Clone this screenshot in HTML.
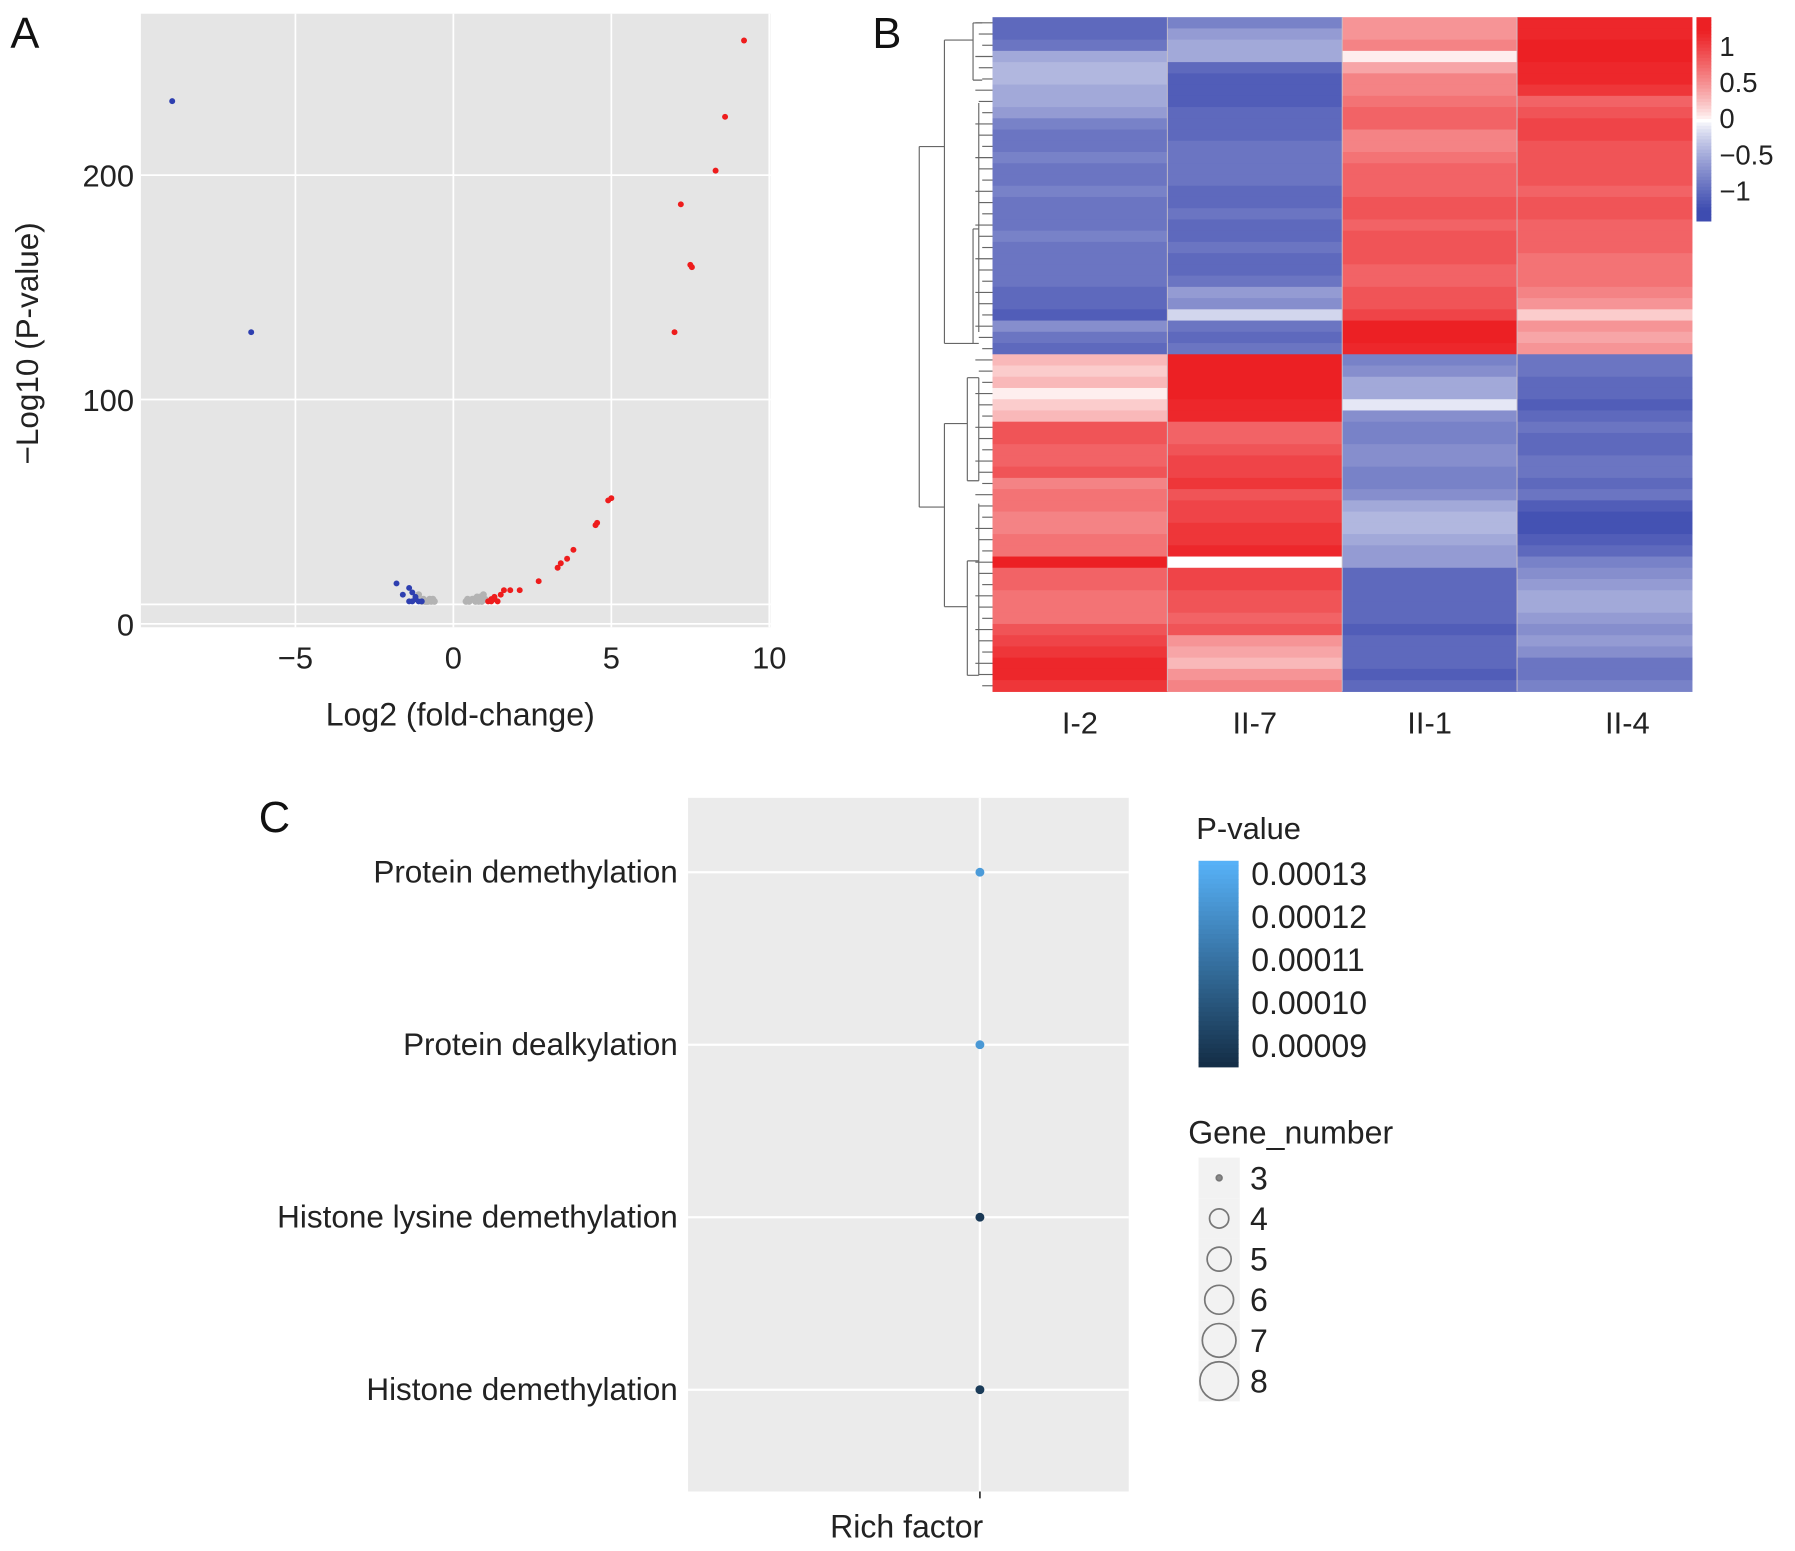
<!DOCTYPE html>
<html><head><meta charset="utf-8">
<style>
html,body{margin:0;padding:0;background:#fff;}
svg{display:block;font-family:"Liberation Sans",Arial,sans-serif;}
</style></head>
<body>
<svg id="fig" width="1795" height="1551" viewBox="0 0 1568 1355" xmlns="http://www.w3.org/2000/svg">
<g id="panelA"></g>
<g id="panelB"></g>
<g id="panelC"></g>
</svg>
<script>
// ---------- Panel A data ----------
const redX = [9.2,8.6,8.3,7.2,7.5,7.55,7.0,4.9,5.0,4.5,4.55,3.8,3.6,3.4,3.3,2.7,2.1,1.8,1.6,1.5,1.3,1.2,1.1,1.2,1.3,1.4];
const redY = [260,226,202,187,160,159,130,55,56,44,45,33,29,27,25,19,15,15,15,13,11,11,10,10,12,10];
const blueX = [-8.9,-6.4,-1.8,-1.6,-1.4,-1.3,-1.2,-1.1,-1.3,-1.0,-1.2,-1.4];
const blueY = [233,130,18,13,16,14,11,10,10,10,12,10];
const grayX = [-1.0,-0.9,-0.8,-0.7,-0.6,-0.95,-0.85,-0.75,-1.1,0.4,0.5,0.6,0.7,0.8,0.9,1.0,0.45,0.65,0.85,0.95,-0.65,0.75];
const grayY = [10,10,10,10,10,11,10,11,13,10,10,11,10,10,10,11,11,11,12,13,11,12];
const aXTicks = [-5,0,5,10];
const aYTicks = [0,100,200];

// ---------- Panel B data ----------
const hmCols = ["I-2","II-7","II-1","II-4"];
const hmI2 = [-1.0,-1.0,-0.9,-0.5,-0.4,-0.4,-0.5,-0.5,-0.6,-0.8,-0.9,-0.9,-0.8,-0.9,-0.9,-0.8,-0.9,-0.9,-0.9,-0.8,-0.9,-0.9,-0.9,-0.9,-1.0,-1.0,-1.1,-0.7,-0.9,-1.0,
 0.3,0.2,0.3,0.05,0.2,0.3,0.9,0.9,0.8,0.8,0.9,0.6,0.7,0.7,0.6,0.6,0.7,0.7,1.3,0.8,0.8,0.7,0.7,0.7,0.9,1.0,1.1,1.2,1.2,1.1];
const hmII7 = [-0.8,-0.6,-0.5,-0.5,-1.0,-1.1,-1.1,-1.1,-1.0,-1.0,-1.0,-0.9,-0.9,-0.9,-0.9,-1.0,-1.0,-0.9,-1.0,-1.0,-0.9,-1.0,-1.0,-0.9,-0.6,-0.7,-0.2,-0.9,-1.0,-0.9,
 1.3,1.3,1.3,1.3,1.2,1.2,0.8,0.8,0.9,1.0,1.0,1.1,0.9,1.0,1.0,1.1,1.1,1.2,0.0,1.0,1.0,0.9,0.9,0.8,0.9,0.5,0.4,0.3,0.5,0.6];
const hmII1 = [0.5,0.5,0.6,0.05,0.4,0.6,0.6,0.7,0.8,0.8,0.6,0.6,0.7,0.8,0.8,0.8,0.9,0.9,0.8,0.9,0.9,0.9,0.8,0.8,0.9,0.9,1.0,1.3,1.3,1.2,
 -0.8,-0.7,-0.5,-0.5,-0.1,-0.7,-0.8,-0.8,-0.7,-0.7,-0.8,-0.8,-0.7,-0.5,-0.4,-0.4,-0.5,-0.6,-0.6,-1.0,-1.0,-1.0,-1.0,-1.0,-1.1,-1.0,-1.0,-1.0,-1.1,-1.0];
const hmII4 = [1.2,1.2,1.3,1.3,1.2,1.2,1.1,0.8,0.9,1.0,1.0,0.9,0.9,0.9,0.9,0.8,0.9,0.9,0.8,0.8,0.8,0.7,0.7,0.7,0.6,0.5,0.2,0.5,0.4,0.5,
 -0.9,-0.9,-1.0,-1.0,-1.1,-1.0,-0.9,-1.0,-1.0,-0.9,-0.9,-1.0,-0.9,-1.1,-1.2,-1.2,-1.1,-1.0,-0.8,-0.7,-0.6,-0.5,-0.5,-0.6,-0.7,-0.6,-0.7,-0.9,-0.9,-0.8];
const cbTicks = [1,0.5,0,-0.5,-1];
const cbLabels = ["1","0.5","0","\u22120.5","\u22121"];

// ---------- Panel C data ----------
const terms = ["Protein demethylation","Protein dealkylation","Histone lysine demethylation","Histone demethylation"];
const richFactor = [0.5,0.5,0.5,0.5];
const pValues = [0.000125,0.000124,0.000090,0.000091];
const geneNumber = [3,3,3,3];
const pTicks = [0.00013,0.00012,0.00011,0.00010,0.00009];
const pTickLabels = ["0.00013","0.00012","0.00011","0.00010","0.00009"];
const sizeKeys = [3,4,5,6,7,8];

const NS="http://www.w3.org/2000/svg";
function mk(parent,tag,attrs,text){const e=document.createElementNS(NS,tag);for(const k in attrs)e.setAttribute(k,attrs[k]);if(text!==undefined)e.textContent=text;parent.appendChild(e);return e;}

// ===== Panel A =====
(function(){
const g=document.getElementById('panelA');
const L=123,R=673,T=12,B=548;
const xS=v=>396+v*27.6, yS=v=>545-v*1.96;
let e=mk(g,'rect',{x:L,y:T,width:R-L,height:B-T,fill:'#e5e5e5'});


aXTicks.forEach(t=>{
 e=mk(g,'line',{x1:xS(t),x2:xS(t),y1:T,y2:B,stroke:'#fff','stroke-width':1.5});
 
 e=mk(g,'text',{x:xS(t),y:584,'font-size':27,'text-anchor':'middle',fill:'#222'},t<0?'\u2212'+(-t):String(t));
 
});
aYTicks.forEach(t=>{
 e=mk(g,'line',{x1:L,x2:R,y1:yS(t),y2:yS(t),stroke:'#fff','stroke-width':1.5});
 
 e=mk(g,'text',{x:117,y:yS(t)+10,'font-size':27,'text-anchor':'end',fill:'#222'},String(t));
 
});
e=mk(g,'line',{x1:L,x2:R,y1:528,y2:528,stroke:'#fff','stroke-width':1.5});

grayX.forEach((x,i)=>{e=mk(g,'circle',{cx:xS(x),cy:yS(grayY[i]),r:3,fill:'#b3b3b3'});
 });
blueX.forEach((x,i)=>{e=mk(g,'circle',{cx:xS(x),cy:yS(blueY[i]),r:2.6,fill:'#2e3fb0'});
 });
redX.forEach((x,i)=>{e=mk(g,'circle',{cx:xS(x),cy:yS(redY[i]),r:2.6,fill:'#ee1c1c'});
 });
e=mk(g,'text',{x:402,y:634,'font-size':28,'text-anchor':'middle',fill:'#222'},'Log2 (fold-change)');

e=mk(g,'text',{x:0,y:0,'font-size':27.5,'text-anchor':'middle',fill:'#222',transform:'translate(33,300) rotate(-90)'},'\u2212Log10 (P-value)');

e=mk(g,'text',{x:9,y:42,'font-size':38,fill:'#111'},'A');

})();

// ===== Panel B =====
(function(){
const g=document.getElementById('panelB');
const L=867,R=1478,T=15,B=604;
const cols=[hmI2,hmII7,hmII1,hmII4];
const n=hmI2.length, rh=(B-T)/n, cw=(R-L)/4;
function col(v){
 const lo=[62,76,176],mid=[255,255,255],hi=[236,32,36];
 let t=Math.max(-1,Math.min(1,v/1.25));
 const a=t<0?lo:hi, f=Math.pow(Math.abs(t),0.8);
 return 'rgb('+[0,1,2].map(k=>Math.round(mid[k]+(a[k]-mid[k])*f)).join(',')+')';
}
let e;
cols.forEach((arr,c)=>{
 arr.forEach((v,r)=>{
  e=mk(g,'rect',{x:L+c*cw,y:T+r*rh,width:cw+0.5,height:rh+0.5,fill:col(v)});
  
 });
 e=mk(g,'text',{x:L+c*cw+cw/2-(c===3?-20:0),y:641,'font-size':27,'text-anchor':'middle',fill:'#222'},hmCols[c]);
 
});
for(let c=1;c<4;c++){e=mk(g,'line',{x1:L+c*cw,x2:L+c*cw,y1:T,y2:B,stroke:'#c8c0c8','stroke-width':0.8});
 }
const dg=mk(g,'g',{stroke:'#666','stroke-width':1,fill:'none'});

const yR=r=>T+(r+0.5)*rh;
const path='M803,128 V443 M803,128 H825 M803,443 H825 M825,35 V300 M825,370 V530 '+
 'M825,35 H850 M825,300 H850 M850,20 V70 M850,200 V300 M825,370 H845 M825,530 H845 M845,330 V420 M845,490 V590';
mk(dg,'path',{d:path});
for(let r=0;r<n;r++){const y=yR(r);mk(dg,'path',{d:'M'+(852+(r%3)*3)+','+y+' H867'});}
mk(dg,'path',{d:'M850,20 H858 M850,70 H858 M850,200 H855 M850,300 H855 M845,330 H855 M845,420 H855 M845,490 H855 M845,590 H855 M855,90 V290 M855,330 V420 M855,440 V590'});
const cbT=15,cbB=193,cbX=1482,cbW=13;
const cs=v=>103-v*63;
for(let i=0;i<60;i++){const v=1.42-i*(2.84/60);
 e=mk(g,'rect',{x:cbX,y:cbT+i*(cbB-cbT)/60,width:cbW,height:(cbB-cbT)/60+0.5,fill:col(v)});
 }
cbTicks.forEach((t,i)=>{e=mk(g,'text',{x:1502,y:cs(t)+9,'font-size':24,fill:'#222'},cbLabels[i]);
 });
e=mk(g,'text',{x:762,y:42,'font-size':38,fill:'#111'},'B');

})();

// ===== Panel C =====
(function(){
const g=document.getElementById('panelC');
const L=601,R=986,T=697,B=1303;
const yC=i=>762+i*150.7, xC=v=>856+(v-0.5)*100;
let e=mk(g,'rect',{x:L,y:T,width:R-L,height:B-T,fill:'#ebebeb'});

terms.forEach((t,i)=>{
 e=mk(g,'line',{x1:L,x2:R,y1:yC(i),y2:yC(i),stroke:'#fff','stroke-width':2});
 
 e=mk(g,'text',{x:592,y:yC(i)+9,'font-size':27.5,'text-anchor':'end',fill:'#222'},t);
 
});
e=mk(g,'line',{x1:xC(0.5),x2:xC(0.5),y1:T,y2:B,stroke:'#fff','stroke-width':2});

e=mk(g,'line',{x1:xC(0.5),x2:xC(0.5),y1:B,y2:B+6,stroke:'#333','stroke-width':1.5});

const pLo=0.000085,pHi=0.000133;
function pcol(p){const f=Math.max(0,Math.min(1,(p-pLo)/(pHi-pLo)));
 const a=[19,43,67],b=[86,177,247];return 'rgb('+[0,1,2].map(k=>Math.round(a[k]+(b[k]-a[k])*f)).join(',')+')';}
const rS=n=>1.2+n*0.9;
richFactor.forEach((v,i)=>{e=mk(g,'circle',{cx:xC(v),cy:yC(i),r:rS(geneNumber[i]),fill:pcol(pValues[i])});
 });
e=mk(g,'text',{x:792,y:1343,'font-size':28,'text-anchor':'middle',fill:'#222'},'Rich factor');

e=mk(g,'text',{x:226,y:727,'font-size':38,fill:'#111'},'C');

e=mk(g,'text',{x:1045,y:733,'font-size':27,fill:'#222'},'P-value');

const lT=752,lB=932;
for(let i=0;i<45;i++){const p=pHi-(i/45)*(pHi-pLo);
 e=mk(g,'rect',{x:1047,y:lT+i*(lB-lT)/45,width:35,height:(lB-lT)/45+0.5,fill:pcol(p)});
 }
const pY=p=>lT+(pHi-p)/(pHi-pLo)*(lB-lT);
pTicks.forEach((p,i)=>{
 e=mk(g,'text',{x:1093,y:pY(p)+10,'font-size':28,fill:'#222'},pTickLabels[i]);
 
});
e=mk(g,'text',{x:1038,y:999,'font-size':28,fill:'#222'},'Gene_number');

sizeKeys.forEach((n,i)=>{const cy=1029+i*35.5;
 e=mk(g,'rect',{x:1047,y:cy-17.7,width:36,height:35.5,fill:'#f2f2f2'});
 
 e=mk(g,'circle',{cx:1065,cy:cy,r:n===3?2.5:(n*2.1),fill:n===3?'#888':'none',stroke:'#777','stroke-width':1.5});
 
 e=mk(g,'text',{x:1092,y:cy+10,'font-size':28,fill:'#222'},String(n));
 
});
})();
</script>
</body></html>
